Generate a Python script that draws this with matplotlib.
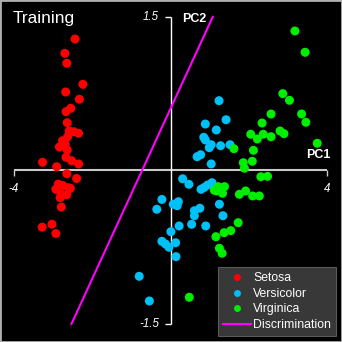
import matplotlib
matplotlib.use("Agg")
import matplotlib.pyplot as plt
from matplotlib.lines import Line2D
from matplotlib.patches import Rectangle
from matplotlib.markers import TICKDOWN, TICKLEFT

plt.rcParams['font.family'] = ['Liberation Sans', 'DejaVu Sans']

# PCA scores (PC1, PC2) of the training samples
setosa_x = [-2.44, -2.70, -2.65, -2.24, -2.68, -2.33, -2.67, -2.55, -2.64, -2.59,
            -2.47, -2.35, -2.63, -2.76, -2.69, -2.84, -2.64, -2.67, -2.53, -2.35,
            -3.27, -2.91, -2.65, -2.40, -2.87, -2.75, -2.61, -2.93, -2.56, -2.80,
            -2.65, -2.82, -2.79, -3.28, -3.03, -2.93]
setosa_y = [1.283, 1.143, 1.046, 0.840, 0.765, 0.694, 0.573, 0.606, 0.465, 0.384,
            0.377, 0.362, 0.328, 0.289, 0.257, 0.228, 0.198, 0.127, 0.094, 0.062,
            0.078, 0.035, -0.033, -0.080, -0.136, -0.149, -0.171, -0.185, -0.176, -0.232,
            -0.238, -0.268, -0.359, -0.556, -0.527, -0.618]

versicolor_x = [1.24, 1.42, 0.89, 1.17, 0.85, 0.89, 1.04, 0.99, 1.28, 1.52,
                0.68, 0.77, 1.04, 0.31, 0.47, 0.78, 0.86, 0.95, 1.06, -0.22,
                -0.35, 0.07, 0.20, 0.17, 0.61, 0.75, 0.61, 1.25, 1.34, 0.22,
                0.54, 0.90, 0.01, -0.22, -0.13, -0.04, 0.13, 0.14, -0.80, -0.54]
versicolor_y = [0.680, 0.494, 0.452, 0.394, 0.322, 0.296, 0.250, 0.221, 0.240, 0.250,
                0.133, 0.152, 0.062, -0.083, -0.137, -0.186, -0.168, -0.144, -0.121, -0.285,
                -0.381, -0.332, -0.307, -0.346, -0.395, -0.371, -0.444, -0.332, -0.444, -0.544,
                -0.528, -0.544, -0.600, -0.694, -0.720, -0.752, -0.708, -0.844, -1.036, -1.277]

virginica_x = [3.18, 3.44, 2.87, 3.04, 3.35, 3.46, 2.57, 2.34, 2.05, 2.22,
               2.37, 2.57, 2.80, 2.90, 3.75, 1.62, 2.12, 2.09, 1.86, 1.89,
               2.31, 2.48, 1.12, 1.22, 1.38, 1.33, 1.18, 1.76, 1.92, 2.10,
               2.27, 1.73, 1.54, 1.37, 1.16, 1.25, 1.32, 0.48]
virginica_y = [1.361, 1.153, 0.749, 0.684, 0.550, 0.469, 0.550, 0.462, 0.352, 0.306,
               0.352, 0.328, 0.384, 0.358, 0.264, 0.211, 0.195, 0.088, 0.074, 0.020,
               -0.063, -0.059, -0.195, -0.160, -0.160, -0.225, -0.202, -0.235, -0.202, -0.251,
               -0.251, -0.512, -0.590, -0.610, -0.649, -0.762, -0.811, -1.241]

# discrimination boundary end points
disc_x = [-2.53, 1.08]
disc_y = [-1.5, 1.5]

# axis extents and labels
pc1_ticks = [-4, 4]
pc2_ticks = [-1.5, 1.5]
pc1_labels = ["-4", "4"]
pc2_labels = ["-1.5", "1.5"]

series = [
    ("Setosa", setosa_x, setosa_y, "#ff0000"),
    ("Versicolor", versicolor_x, versicolor_y, "#00c0f8"),
    ("Virginica", virginica_x, virginica_y, "#00ee00"),
]

fig = plt.figure(figsize=(3.42, 3.42), dpi=100, facecolor="black")
ax = fig.add_axes([0, 0, 1, 1])
ax.set_facecolor("black")
ax.set_xlim(-4.358, 4.383)
ax.set_ylim(-1.678, 1.664)
ax.axis("off")

# coordinate axes through the origin
ax.plot(pc1_ticks, [0, 0], color="#c8c8c8", lw=1.5, zorder=1,
        marker=TICKDOWN, markersize=4, markeredgewidth=1.0, solid_capstyle="butt")
ax.plot([0, 0], pc2_ticks, color="white", lw=1.0, zorder=1,
        marker=TICKLEFT, markersize=4, markeredgewidth=1.0, solid_capstyle="butt")

for v, lab in zip(pc1_ticks, pc1_labels):
    ax.annotate(lab, (v, 0), xytext=(0, -13.3), textcoords="offset points",
                ha="center", va="center", color="white", fontsize=8.3, style="italic")
for v, lab in zip(pc2_ticks, pc2_labels):
    ax.annotate(lab, (0, v), xytext=(-8.3, 0), textcoords="offset points",
                ha="right", va="center", color="white", fontsize=8.3, style="italic")

ax.annotate("PC1", (pc1_ticks[1], 0), xytext=(-6.5, 10.7), textcoords="offset points",
            ha="center", va="center", color="white", fontsize=9, fontweight="bold")
ax.annotate("PC2", (0, pc2_ticks[1]), xytext=(8.3, -1.6), textcoords="offset points",
            ha="left", va="center", color="white", fontsize=9, fontweight="bold")

handles = []
for name, xs, ys, col in series:
    ax.scatter(xs, ys, s=42, color=col, edgecolors="none", zorder=3)
    handles.append(Line2D([], [], linestyle="none", marker="o", markersize=5.0,
                          markerfacecolor=col, markeredgecolor="none", label=name))

ax.plot(disc_x, disc_y, color="#ff00ff", lw=1.5, zorder=2)
handles.append(Line2D([], [], color="#ff00ff", lw=1.5, label="Discrimination"))

leg = ax.legend(handles=handles, loc="lower right", bbox_to_anchor=(0.982, 0.0175),
                bbox_transform=fig.transFigure, fontsize=8.8, frameon=True,
                facecolor="#383838", edgecolor="#5a5a5a", framealpha=1, fancybox=False,
                labelcolor="white", handlelength=2.3, handletextpad=0.16,
                labelspacing=0.3, borderpad=0.4, borderaxespad=0)
leg.get_frame().set_linewidth(0.8)

fig.text(12.7 / 342, 1 - 22.7 / 342, "Training", color="white", fontsize=12.4,
         ha="left", va="baseline")

# light frame around the figure
fig.patches.append(Rectangle((0, 0), 1, 1, transform=fig.transFigure, fill=False,
                             edgecolor="#b0b0b0", lw=2.0, zorder=10))

fig.savefig("out.png", dpi=100, facecolor="black")
